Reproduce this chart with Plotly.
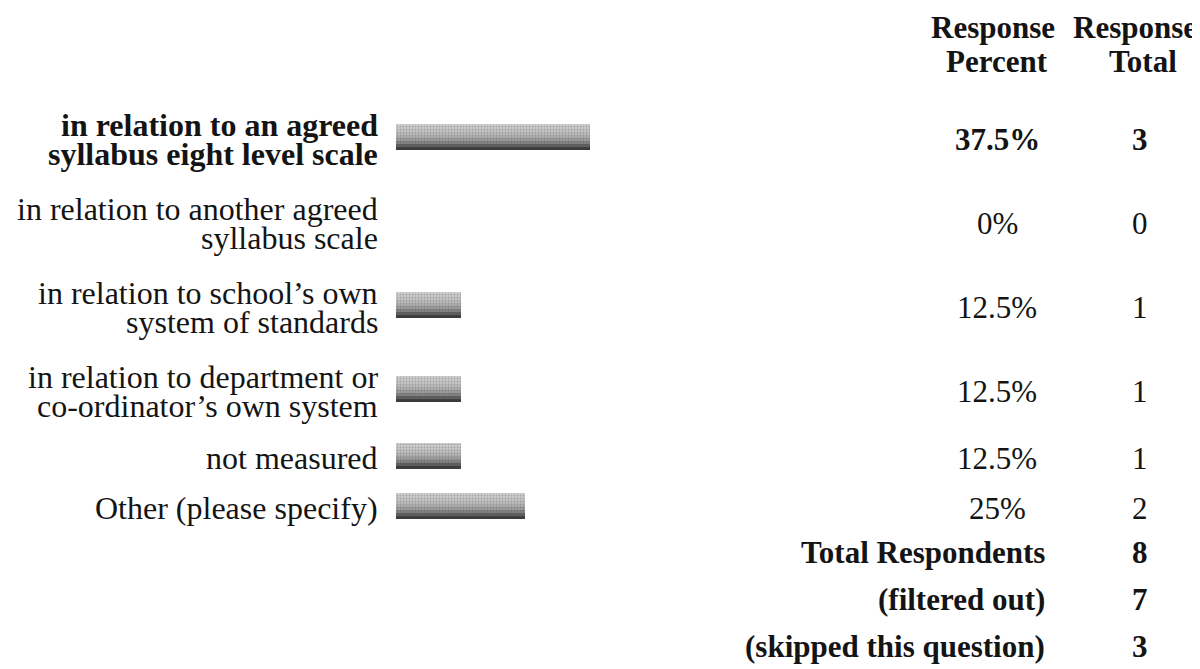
import plotly.graph_objects as go

# ---------------- data ----------------
categories = [
    "in relation to an agreed\nsyllabus eight level scale",
    "in relation to another agreed\nsyllabus scale",
    "in relation to school\u2019s own\nsystem of standards",
    "in relation to department or\nco-ordinator\u2019s own system",
    "not measured",
    "Other (please specify)",
]
percents = [37.5, 0, 12.5, 12.5, 12.5, 25]
percent_labels = ["37.5%", "0%", "12.5%", "12.5%", "12.5%", "25%"]
counts = [3, 0, 1, 1, 1, 2]
header_percent = ["Response", "Percent"]
header_total = ["Response", "Total"]
summary_labels = ["Total Respondents", "(filtered out)", "(skipped this question)"]
summary_values = [8, 7, 3]
bold_rows = [0]

# ---------------- layout constants (pixels) ----------------
W, H = 1200, 669
BAR_X0 = 388          # left edge of bars
PX_PER_100 = 517      # pixels for 100 %
LABEL_RIGHT = 372
PCT_X = 989
TOT_X = 1132
TOT_HDR_X = 1127
SUM_RIGHT = 1039
FONT = "Liberation Serif, Times New Roman, serif"
INK = "#141414"
ROW_TOP = 89
LINE_H = 34
ROW_PAD = 16
LINE_GAP = 29
SUM_H = 47
BAR_H = 26
LBL_SIZE = 32
TXT_SIZE = 31

# row centres from the number of label lines
centers = []
top = ROW_TOP
for c in categories:
    n = len(c.split("\n"))
    h = ROW_PAD + LINE_H * n
    centers.append(top + h / 2)
    top += h
sum_centers = []
stop = top - 4
for _ in summary_labels:
    sum_centers.append(stop + SUM_H / 2)
    stop += SUM_H

fig = go.Figure()

# gradient bar built from thin horizontal bands with a speckle texture
band_colors = ["#d0d0d0", "#cbcbcb", "#c4c4c4", "#bababa", "#adadad",
               "#9c9c9c", "#838383", "#5e5e5e", "#3a3a3a"]
nb = len(band_colors)
bh = BAR_H / nb
for k, col in enumerate(band_colors):
    fig.add_trace(go.Bar(
        x=percents, y=[c - 2 for c in centers], orientation="h",
        width=bh + 0.4, offset=-BAR_H / 2 + k * bh,
        marker=dict(color=col, line=dict(width=0),
                    pattern=dict(shape=".", size=3, solidity=0.35,
                                 fgcolor="#555555", fgopacity=0.35,
                                 fillmode="overlay")),
        hoverinfo="skip", showlegend=False,
    ))

ann = []
def add(text, x, y, size, bold=False, anchor="center"):
    ann.append(dict(
        text=f"<b>{text}</b>" if bold else text,
        x=x / W, xref="paper", y=y, yref="y",
        xanchor=anchor, yanchor="middle", showarrow=False,
        font=dict(family=FONT, size=size, color=INK),
    ))

# headers
add(header_percent[0], PCT_X - 4, 19, TXT_SIZE, True)
add(header_percent[1], PCT_X, 53, TXT_SIZE, True)
add(header_total[0], TOT_HDR_X, 19, TXT_SIZE, True)
add(header_total[1], TOT_X + 3, 53, TXT_SIZE, True)

# rows
for i, (cat, cy) in enumerate(zip(categories, centers)):
    b = i in bold_rows
    lines = cat.split("\n")
    n = len(lines)
    for j, ln in enumerate(lines):
        ly = cy + (j - (n - 1) / 2) * LINE_GAP
        add(ln, LABEL_RIGHT, ly, LBL_SIZE, b, "right")
    add(percent_labels[i], PCT_X, cy, TXT_SIZE, b)
    add(str(counts[i]), TOT_X, cy, TXT_SIZE, b)

# summary
for lab, val, cy in zip(summary_labels, summary_values, sum_centers):
    add(lab, SUM_RIGHT, cy, TXT_SIZE, True, "right")
    add(str(val), TOT_X, cy, TXT_SIZE, True)

fig.update_layout(
    width=W, height=H,
    margin=dict(l=0, r=0, t=0, b=0),
    paper_bgcolor="white", plot_bgcolor="white",
    barmode="overlay", bargap=0,
    xaxis=dict(domain=[BAR_X0 / W, 1], range=[0, (W - BAR_X0) / PX_PER_100 * 100],
               visible=False, fixedrange=True),
    yaxis=dict(domain=[0, 1], range=[H, 0], visible=False, fixedrange=True),
    annotations=ann,
    showlegend=False,
)

fig.write_html("out.html")
